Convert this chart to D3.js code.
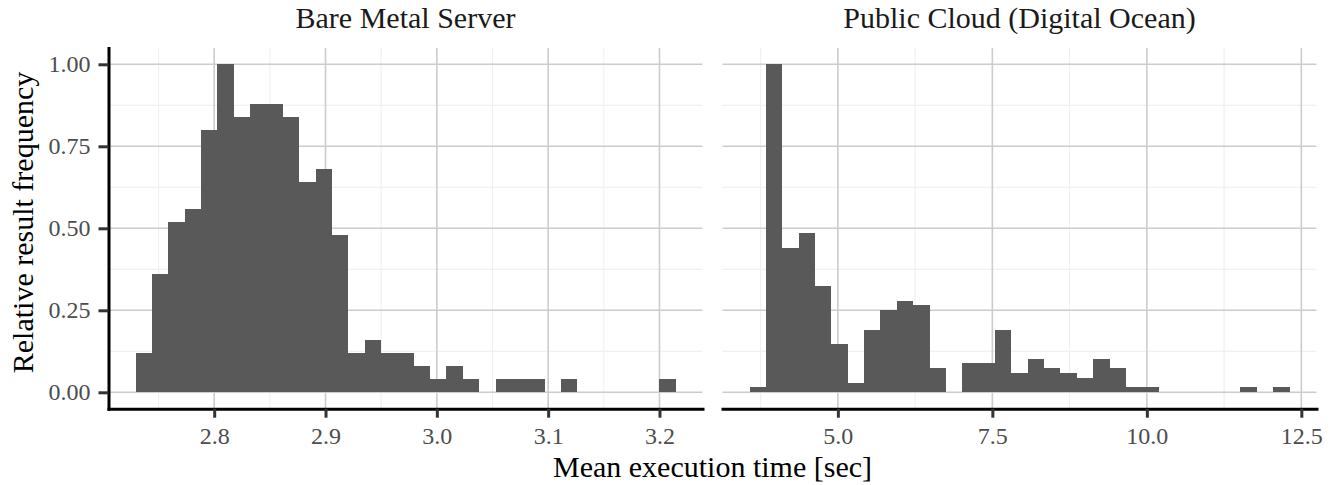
<!DOCTYPE html>
<html>
<head>
<meta charset="utf-8">
<script src="https://cdn.jsdelivr.net/npm/d3@7"></script>
<style>
  html, body { margin: 0; padding: 0; background: #fff; }
  svg { display: block; }
  text { font-family: "Liberation Serif", "Times New Roman", serif; }
</style>
</head>
<body>
<svg id="chart" width="1337" height="485"></svg>
<script>
// ---- Data ----
const panelTitles = ["Bare Metal Server", "Public Cloud (Digital Ocean)"];

// Bare metal: histogram bins (lower edge of first bin, bin width, relative frequency per bin)
const bareBinStart = 2.7293;
const bareBinWidth = 0.0147;
const bareFreq = [0.12, 0.36, 0.52, 0.56, 0.80, 1.00, 0.84, 0.88, 0.88, 0.84, 0.64, 0.68, 0.48,
                  0.12, 0.16, 0.12, 0.12, 0.08, 0.04, 0.08, 0.04, 0, 0.04, 0.04, 0.04, 0,
                  0.04, 0, 0, 0, 0, 0, 0.04];

// Public cloud
const cloudBinStart = 3.570;
const cloudBinWidth = 0.2648;
const cloudFreq = [0.015, 1.00, 0.441, 0.485, 0.324, 0.147, 0.029, 0.191, 0.250, 0.279, 0.265,
                   0.074, 0, 0.088, 0.088, 0.191, 0.059, 0.103, 0.074, 0.059, 0.044, 0.103,
                   0.074, 0.015, 0.015, 0, 0, 0, 0, 0, 0.015, 0, 0.015];

const bareTicks = [2.8, 2.9, 3.0, 3.1, 3.2];
const cloudTicks = [5.0, 7.5, 10.0, 12.5];
const yTicks = [0, 0.25, 0.5, 0.75, 1.0];

const xLabel = "Mean execution time [sec]";
const yLabel = "Relative result frequency";

// ---- Layout ----
const svg = d3.select("#chart");
const panelTop = 47.9, panelBottom = 408.7;
const panels = [
  { title: panelTitles[0], start: bareBinStart, width: bareBinWidth, freq: bareFreq, ticks: bareTicks, x0: 108.5, x1: 702.5, fmt: d3.format(".1f"), yAxis: true },
  { title: panelTitles[1], start: cloudBinStart, width: cloudBinWidth, freq: cloudFreq, ticks: cloudTicks, x0: 722.5, x1: 1316.5, fmt: d3.format(".1f"), yAxis: false }
];

const y = d3.scaleLinear().domain([-0.05, 1.05]).range([panelBottom, panelTop]);
const yMinor = [0.125, 0.375, 0.625, 0.875];

panels.forEach(p => {
  const bins = p.freq.map((f, i) => ({ x0: p.start + i * p.width, x1: p.start + (i + 1) * p.width, f }));
  const lo = bins[0].x0, hi = bins[bins.length - 1].x1;
  const pad = (hi - lo) * 0.05;
  const x = d3.scaleLinear().domain([lo - pad, hi + pad]).range([p.x0, p.x1]);

  // minor x gridlines: midpoints between major ticks (and beyond, within range)
  const step = p.ticks[1] - p.ticks[0];
  const xMinor = [];
  for (let k = -1; k < p.ticks.length; k++) {
    const v = p.ticks[0] + (k + 0.5) * step;
    if (v > x.domain()[0] && v < x.domain()[1]) xMinor.push(v);
  }

  const g = svg.append("g");

  // minor grid
  g.selectAll(".gmx").data(xMinor).join("line")
    .attr("x1", d => x(d)).attr("x2", d => x(d)).attr("y1", panelTop).attr("y2", panelBottom)
    .attr("stroke", "#f0f0f0").attr("stroke-width", 1.2);
  g.selectAll(".gmy").data(yMinor).join("line")
    .attr("x1", p.x0).attr("x2", p.x1).attr("y1", d => y(d)).attr("y2", d => y(d))
    .attr("stroke", "#f0f0f0").attr("stroke-width", 1.2);
  // major grid
  g.selectAll(".gx").data(p.ticks).join("line")
    .attr("x1", d => x(d)).attr("x2", d => x(d)).attr("y1", panelTop).attr("y2", panelBottom)
    .attr("stroke", "#cccccc").attr("stroke-width", 1.6);
  g.selectAll(".gy").data(yTicks).join("line")
    .attr("x1", p.x0).attr("x2", p.x1).attr("y1", d => y(d)).attr("y2", d => y(d))
    .attr("stroke", "#cccccc").attr("stroke-width", 1.6);

  // bars
  g.selectAll(".bar").data(bins.filter(b => b.f > 0)).join("rect")
    .attr("x", d => x(d.x0)).attr("width", d => x(d.x1) - x(d.x0))
    .attr("y", d => y(d.f)).attr("height", d => y(0) - y(d.f))
    .attr("fill", "#595959").attr("shape-rendering", "crispEdges");

  // x axis
  const xa = g.append("g").attr("transform", `translate(0,${panelBottom})`)
    .call(d3.axisBottom(x).tickValues(p.ticks).tickFormat(p.fmt).tickSize(9).tickSizeOuter(0).tickPadding(9));
  xa.select(".domain").attr("stroke", "#000").attr("stroke-width", 3).attr("stroke-linecap", "square");
  xa.selectAll(".tick line").attr("stroke", "#333").attr("stroke-width", 3);
  xa.selectAll(".tick text").attr("fill", "#4d4d4d").attr("font-size", 24)
    .attr("font-family", '"Liberation Serif", "Times New Roman", serif');

  if (p.yAxis) {
    const ya = g.append("g").attr("transform", `translate(${p.x0},0)`)
      .call(d3.axisLeft(y).tickValues(yTicks).tickFormat(d3.format(".2f")).tickSize(10).tickSizeOuter(0).tickPadding(8));
    ya.select(".domain").attr("stroke", "#000").attr("stroke-width", 3).attr("stroke-linecap", "square");
    ya.selectAll(".tick line").attr("stroke", "#333").attr("stroke-width", 3);
    ya.selectAll(".tick text").attr("fill", "#4d4d4d").attr("font-size", 24)
      .attr("font-family", '"Liberation Serif", "Times New Roman", serif');
  }

  // panel title
  svg.append("text").attr("x", (p.x0 + p.x1) / 2).attr("y", 28)
    .attr("text-anchor", "middle").attr("font-size", 30).attr("fill", "#1a1a1a")
    .text(p.title);
});

// axis titles
svg.append("text").attr("x", (panels[0].x0 + panels[1].x1) / 2).attr("y", 477)
  .attr("text-anchor", "middle").attr("font-size", 30).attr("fill", "#000").text(xLabel);
svg.append("text").attr("transform", "translate(33,222.5) rotate(-90)")
  .attr("text-anchor", "middle").attr("font-size", 30).attr("fill", "#000").text(yLabel);
</script>
</body>
</html>
